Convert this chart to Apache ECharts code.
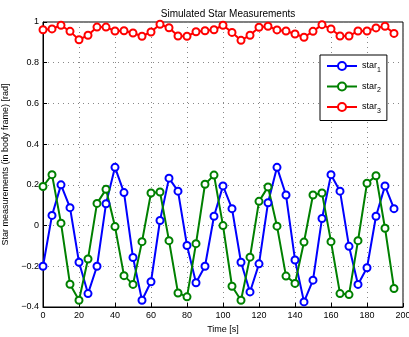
<!DOCTYPE html>
<html><head><meta charset="utf-8">
<script src="https://cdn.jsdelivr.net/npm/echarts@6/dist/echarts.min.js"></script>
<style>html,body{margin:0;padding:0;background:#fff}#c{width:409px;height:337px}</style>
</head><body><div id="c"></div>
<script>
const time = [0,5,10,15,20,25,30,35,40,45,50,55,60,65,70,75,80,85,90,95,100,105,110,115,120,125,130,135,140,145,150,155,160,165,170,175,180,185,190,195];
const star1 = [-0.20,0.05,0.20,0.088,-0.18,-0.334,-0.20,0.107,0.286,0.162,-0.157,-0.367,-0.276,0.025,0.233,0.169,-0.098,-0.281,-0.20,0.046,0.195,0.083,-0.18,-0.326,-0.188,0.112,0.286,0.15,-0.169,-0.375,-0.268,0.035,0.25,0.169,-0.102,-0.289,-0.207,0.046,0.195,0.083];
const star2 = [0.192,0.25,0.012,-0.288,-0.367,-0.164,0.109,0.178,-0.005,-0.246,-0.289,-0.079,0.16,0.165,-0.074,-0.331,-0.35,-0.089,0.203,0.248,0.0,-0.298,-0.367,-0.155,0.119,0.19,-0.003,-0.248,-0.284,-0.081,0.15,0.16,-0.079,-0.334,-0.339,-0.074,0.208,0.245,-0.013,-0.309];
const star3 = [0.962,0.966,0.984,0.954,0.913,0.935,0.975,0.975,0.956,0.957,0.946,0.930,0.951,0.989,0.972,0.931,0.930,0.952,0.957,0.962,0.984,0.949,0.910,0.935,0.974,0.979,0.961,0.956,0.941,0.925,0.954,0.987,0.966,0.931,0.931,0.956,0.956,0.971,0.979,0.944];
const names = ['star{s|1}','star{s|2}','star{s|3}'];
const colors = ['#0000ff','#008000','#ff0000'];
const font = 'Liberation Sans, Arial, sans-serif';
function mk(name, vals, color){
  return {name:name, type:'line', data: time.map((t,i)=>[t,vals[i]]),
    symbol:'emptyCircle', symbolSize:7, showSymbol:true,
    lineStyle:{color:color,width:2}, itemStyle:{color:color,borderColor:color,borderWidth:2},
    emphasis:{disabled:true}, animation:false};
}
const chart = echarts.init(document.getElementById('c'));
chart.setOption({
  animation:false,
  title:{text:'Simulated Star Measurements', left:223, top:4, textAlign:'center',
    textStyle:{fontFamily:font,fontSize:10,fontWeight:'normal',color:'#000'}},
  grid:{left:43, right:6, top:22, bottom:30, show:true, borderColor:'#000', borderWidth:1, containLabel:false, outerBoundsMode:'none'},
  xAxis:{type:'value', min:0, max:200, interval:20, name:'Time [s]', nameLocation:'middle', nameGap:16,
    nameTextStyle:{fontFamily:font,fontSize:9,color:'#000'},
    axisLine:{show:true,onZero:false,lineStyle:{color:'#000'}}, axisTick:{inside:true,length:4,lineStyle:{color:'#000'}},
    axisLabel:{fontFamily:font,fontSize:9,color:'#000',margin:4},
    splitLine:{show:true,lineStyle:{color:'#888',type:[1,4],width:1}}},
  yAxis:{type:'value', min:-0.4, max:1, interval:0.2, name:'Star measurements (in body frame) [rad]', nameLocation:'middle', nameGap:27,
    nameTextStyle:{fontFamily:font,fontSize:9,color:'#000'},
    axisLine:{show:true,onZero:false,lineStyle:{color:'#000'}}, axisTick:{inside:true,length:4,lineStyle:{color:'#000'}},
    axisLabel:{fontFamily:font,fontSize:9,color:'#000',margin:4, formatter:v=>String(Math.round(v*10)/10).replace('-','\u2212')},
    splitLine:{show:true,lineStyle:{color:'#888',type:[1,4],width:1}}},
  legend:{orient:'vertical', left:320, top:55, padding:[6,6,6,6], itemGap:8,
    backgroundColor:'#fff', borderColor:'#000', borderWidth:1, itemWidth:30, itemHeight:10,
    textStyle:{fontFamily:font,fontSize:9,color:'#000', rich:{s:{fontFamily:font,fontSize:7,verticalAlign:'bottom',padding:[8,0,0,0]}}},
    data:names},
  series:[mk(names[0],star1,colors[0]), mk(names[1],star2,colors[1]), mk(names[2],star3,colors[2])]
});
</script></body></html>
